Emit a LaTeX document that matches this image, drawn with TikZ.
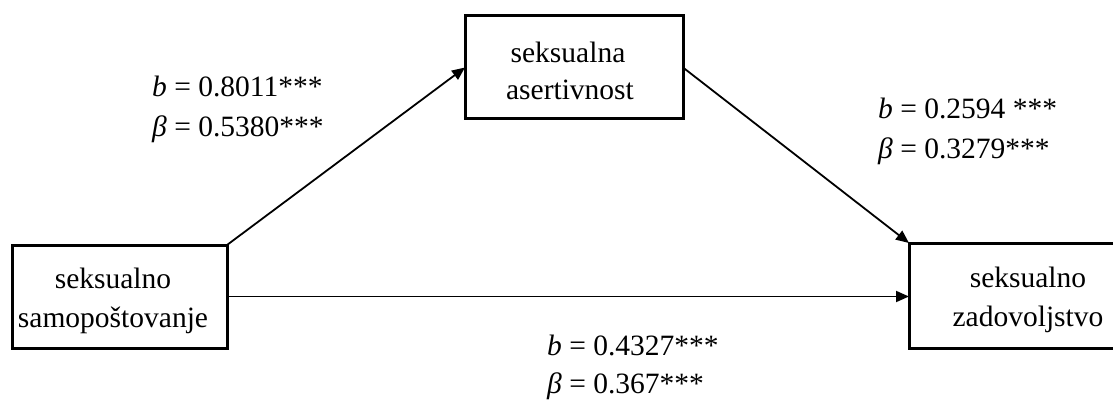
\documentclass[tikz,border=0pt]{standalone}
\usepackage{fontspec}
\setmainfont{Liberation Serif}
\usetikzlibrary{arrows.meta}
\begin{document}
\begin{tikzpicture}[x=1pt,y=-1pt,
  boxnode/.style={draw, line width=3pt, rectangle, inner sep=0pt, outer sep=0pt},
  txt/.style={inner sep=0pt, anchor=base, font=\fontsize{29.5}{39}\selectfont},
  lbl/.style={inner sep=0pt, anchor=base west, font=\fontsize{29.5}{39}\selectfont},
  conn/.style={line width=1.8pt, -{Triangle[length=13pt,width=11pt]}}]
\useasboundingbox (0,0) rectangle (1113,401);
\clip (0,0) rectangle (1113,401);
\node[boxnode, minimum width=215pt, minimum height=103pt] (lbox) at (119.5,296.5) {};
\node[boxnode, minimum width=218pt, minimum height=103pt] (tbox) at (574,67.5) {};
\node[boxnode, minimum width=238pt, minimum height=105pt] (rbox) at (1028,295.5) {};
\node[txt] (lt1) at (113,288) {seksualno};
\node[txt] (lt2) at (113,327) {samopoštovanje};
\node[txt] (tt1) at (568,63) {seksualna};
\node[txt] (tt2) at (570,100) {asertivnost};
\node[txt] (rt1) at (1028,287) {seksualno};
\node[txt] (rt2) at (1028,326) {zadovoljstvo};
\draw[conn] (lbox.north east) -- (tbox.west);
\draw[conn] (tbox.east) -- (rbox.north west);
\draw[conn] (lbox.east) -- (lbox.east -| rbox.west);
\node[lbl] (a1) at (152,97) {\textit{b} = 0.8011***};
\node[lbl] (a2) at (152,136) {\textit{β} = 0.5380***};
\node[lbl] (b1) at (878,119) {\textit{b} = 0.2594 ***};
\node[lbl] (b2) at (878,158) {\textit{β} = 0.3279***};
\node[lbl] (c1) at (547,355) {\textit{b} = 0.4327***};
\node[lbl] (c2) at (547,393) {\textit{β} = 0.367***};
\end{tikzpicture}
\end{document}
